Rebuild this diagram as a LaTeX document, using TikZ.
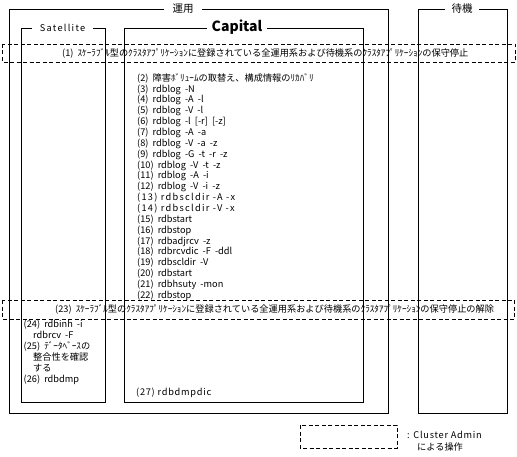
\documentclass[tikz,border=0pt]{standalone}
\usepackage{fontspec}
\setmainfont[WordSpace=2]{Noto Sans CJK JP}
\newfontfamily\spacedfont[LetterSpace=14]{Noto Sans CJK JP}
\newfontfamily\wideitem[LetterSpace=14]{Noto Sans CJK JP}
\newfontfamily\lightspaced[LetterSpace=8]{Noto Sans CJK JP}
\begin{document}
\begin{tikzpicture}[x=1pt,y=-1pt,
  frame/.style={draw, line width=0.9pt},
  ftitle/.style={fill=white, inner sep=0pt, minimum height=4pt},
  band/.style={draw, dash pattern=on 4pt off 2.5pt, line width=0.9pt},
  item/.style={anchor=base west, inner sep=0pt, font=\fontsize{9.2}{11}\selectfont}
]
\useasboundingbox (0,0) rectangle (517,457);

% frames
\draw[frame] (9.5,9) rectangle (388,413);
\draw[frame] (418,9) rectangle (507.5,413);
\draw[frame] (21,28) rectangle (105,402);
\draw[frame] (124,28) rectangle (363,402);

% frame titles
\node[ftitle, minimum width=38pt, font=\fontsize{10.5}{12}\selectfont] (tunyo) at (183,8.5) {運用};
\node[ftitle, minimum width=34pt, font=\fontsize{10.5}{12}\selectfont] (ttaiki) at (462,8.5) {待機};
\node[ftitle, minimum width=61pt, font=\fontsize{9.2}{11}\spacedfont] (tsat) at (62.5,28) {Satellite};
\node[ftitle, minimum width=60pt, font=\fontsize{14}{16}\bfseries] (tcap) at (237,27) {Capital};

% dashed bands
\draw[band] (2.5,44) rectangle (515,62.5);
\draw[band] (2.5,300) rectangle (514.5,319);

\node[item] (s1) at (62,56.5) {(1) ｽｹｰﾗﾌﾞﾙ型のｸﾗｽﾀｱﾌﾟﾘｹｰｼｮﾝに登録されている全運用系および待機系のｸﾗｽﾀｱﾌﾟﾘｹｰｼｮﾝの保守停止};
\node[item] (s23) at (55,312.5) {(23) ｽｹｰﾗﾌﾞﾙ型のｸﾗｽﾀｱﾌﾟﾘｹｰｼｮﾝに登録されている全運用系および待機系のｸﾗｽﾀｱﾌﾟﾘｹｰｼｮﾝの保守停止の解除};

% Capital items
\node[item] (s2)  at (137,81.3)  {(2) 障害ﾎﾞﾘｭｰﾑの取替え、構成情報のﾘｶﾊﾞﾘ};
\node[item] (s3)  at (137,92.15) {(3) rdblog -N};
\node[item] (s4)  at (137,103.0) {(4) rdblog -A -l};
\node[item] (s5)  at (137,113.85) {(5) rdblog -V -l};
\node[item] (s6)  at (137,124.7) {(6) rdblog -l [-r] [-z]};
\node[item] (s7)  at (137,135.55) {(7) rdblog -A -a};
\node[item] (s8)  at (137,146.4) {(8) rdblog -V -a -z};
\node[item] (s9)  at (137,157.25) {(9) rdblog -G -t -r -z};
\node[item] (s10) at (137,168.1) {(10) rdblog -V -t -z};
\node[item] (s11) at (137,178.95) {(11) rdblog -A -i};
\node[item] (s12) at (137,189.8) {(12) rdblog -V -i -z};
\node[item, font=\fontsize{9.2}{11}\wideitem] (s13) at (137,200.65) {(13) rdbscldir -A -x};
\node[item, font=\fontsize{9.2}{11}\wideitem] (s14) at (137,211.5) {(14) rdbscldir -V -x};
\node[item] (s15) at (137,222.35) {(15) rdbstart};
\node[item] (s16) at (137,233.2) {(16) rdbstop};
\node[item] (s17) at (137,244.05) {(17) rdbadjrcv -z};
\node[item] (s18) at (137,254.9) {(18) rdbrcvdic -F -ddl};
\node[item] (s19) at (137,265.75) {(19) rdbscldir -V};
\node[item] (s20) at (137,276.6) {(20) rdbstart};
\node[item] (s21) at (137,287.45) {(21) rdbhsuty -mon};
\node[item] (s22) at (137,298.3) {(22) rdbstop};
\node[item, font=\fontsize{9.2}{11}\lightspaced] (s27) at (136,395.5) {(27) rdbdmpdic};

% Satellite items
\node[item] (s24)  at (23.5,327.3) {(24) rdbinh -i};
\node[item] (s24b) at (33,338.3) {rdbrcv -F};
\node[item] (s25)  at (23.5,349.3) {(25) ﾃﾞｰﾀﾍﾞｰｽの};
\node[item] (s25b) at (33,360.3) {整合性を確認};
\node[item] (s25c) at (33,371.3) {する};
\node[item] (s26)  at (23.5,382.3) {(26) rdbdmp};

% legend
\draw[band] (300,425) rectangle (397,448);
\node[item, font=\fontsize{9.2}{11}\lightspaced] (leg1) at (407,438.3) {: Cluster Admin};
\node[item] (leg2) at (417,450.3) {による操作};
\end{tikzpicture}
\end{document}
